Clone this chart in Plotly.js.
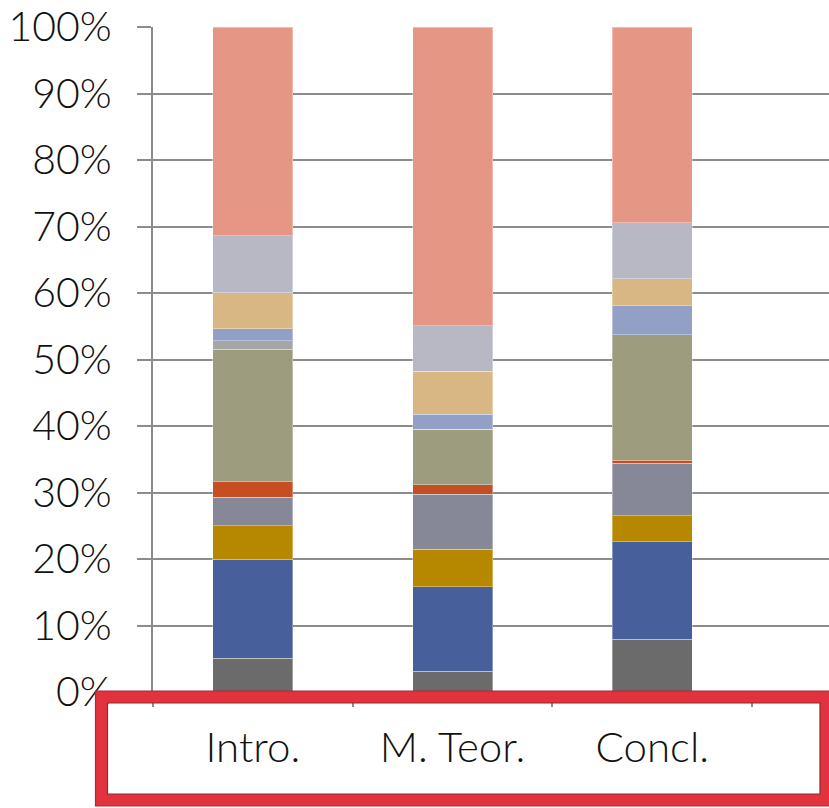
<!DOCTYPE html>
<html>
<head>
<meta charset="utf-8">
<script src="https://cdn.plot.ly/plotly-3.0.1.min.js"></script>
<style>html,body{margin:0;padding:0;background:#fff;}#chart{width:829px;height:808px;}</style>
</head>
<body>
<div id="chart"></div>
<script>
const categories = ['Intro.', 'M. Teor.', 'Concl.'];

const serie1 = [5.10, 3.11, 7.96];
const serie2 = [14.87, 12.70, 14.61];
const serie3 = [5.06, 5.62, 3.96];
const serie4 = [4.25, 8.34, 7.85];
const serie5 = [2.36, 1.42, 0.50];
const serie6 = [19.91, 8.34, 18.87];
const serie7 = [1.30, 0.00, 0.00];
const serie8 = [1.76, 2.21, 4.36];
const serie9 = [5.41, 6.46, 4.01];
const serie10 = [8.60, 6.86, 8.41];
const serie11 = [31.38, 44.94, 29.47];

const seriesNames = ['Serie 1','Serie 2','Serie 3','Serie 4','Serie 5','Serie 6','Serie 7','Serie 8','Serie 9','Serie 10','Serie 11'];
const seriesValues = [serie1, serie2, serie3, serie4, serie5, serie6, serie7, serie8, serie9, serie10, serie11];
const seriesColors = ['#6b6b6b','#47609b','#b68800','#868898','#c54f22','#9e9c7e','#a6a6a6','#93a0c6','#d8b784','#b8b8c5','#e59685'];

const traces = seriesValues.map((vals, i) => ({
  type: 'bar',
  name: seriesNames[i],
  x: categories,
  y: vals,
  marker: {color: seriesColors[i], line: {color: 'rgba(255,255,255,0.35)', width: 1}},
  showlegend: false,
  hoverinfo: 'skip'
}));

function px(x){ return (x - 153) / 676; }
function py(y){ return (692 - y) / 665; }

const labelFont = 'Lato, "Open Sans", sans-serif';

const layout = {
  width: 829, height: 808,
  margin: {l: 153, r: 0, t: 27, b: 116, pad: 0},
  paper_bgcolor: '#ffffff', plot_bgcolor: '#ffffff',
  barmode: 'stack', barnorm: 'percent',
  bargap: 0.6,
  font: {family: labelFont, color: '#111111', size: 40},
  xaxis: {
    type: 'category', range: [-0.5, 2.885],
    showgrid: false, showline: false, zeroline: false,
    ticks: 'outside', tickson: 'boundaries', ticklen: 14, tickwidth: 2, tickcolor: '#8a8a8a',
    tickfont: {size: 42, family: labelFont, color: '#111', weight: 300},
    ticklabelstandoff: 27
  },
  yaxis: {
    range: [0, 100], dtick: 10, ticksuffix: '%',
    showgrid: true, gridcolor: '#8c8c8c', gridwidth: 2,
    showline: true, linecolor: '#8c8c8c', linewidth: 2,
    zeroline: false,
    ticks: 'outside', ticklen: 14, tickwidth: 2, tickcolor: '#8c8c8c',
    tickfont: {size: 41, family: labelFont, color: '#111', weight: 300},
    ticklabelstandoff: 17
  },
  shapes: [
    {type: 'rect', xref: 'paper', yref: 'paper', layer: 'above',
     x0: px(101.5), x1: px(826), y0: py(800), y1: py(697),
     line: {color: '#e2323e', width: 12}, fillcolor: 'rgba(0,0,0,0)'},
    {type: 'rect', xref: 'paper', yref: 'paper', layer: 'above',
     x0: px(107.5), x1: px(820), y0: py(794), y1: py(703),
     line: {color: '#8e2a30', width: 1.2}, fillcolor: 'rgba(0,0,0,0)'},
    {type: 'rect', xref: 'paper', yref: 'paper', layer: 'above',
     x0: px(95.5), x1: px(832), y0: py(806), y1: py(691),
     line: {color: '#a92d35', width: 1.2}, fillcolor: 'rgba(0,0,0,0)'}
  ]
};

Plotly.newPlot('chart', traces, layout, {displayModeBar: false, staticPlot: true});
</script>
</body>
</html>
